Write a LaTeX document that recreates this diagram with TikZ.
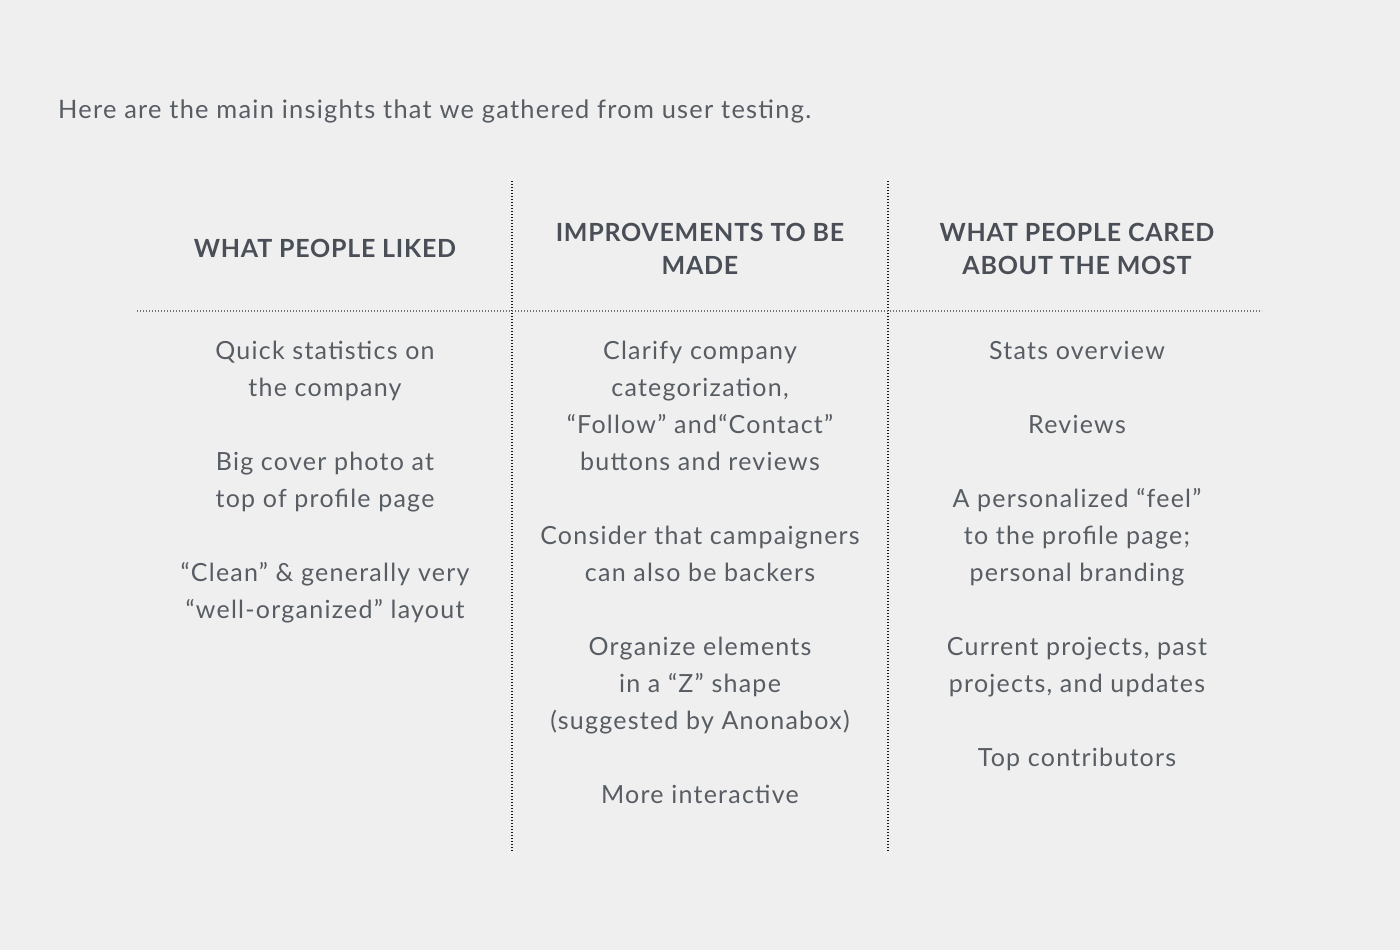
\documentclass[tikz,border=0pt]{standalone}
\usepackage{fontspec}
\setmainfont{Lato}
\newfontfamily\corps[LetterSpace=5]{Lato}
\newfontfamily\grascorps[LetterSpace=3]{Lato Bold}
\usepackage{tikz}

\definecolor{fond}{HTML}{EFEFEF}
\definecolor{texte}{HTML}{585D64}
\definecolor{titre}{HTML}{4A4F57}

\begin{document}
\begin{tikzpicture}[x=1pt, y=-1pt]
	\tikzset{item/.style={anchor=north, align=center, inner sep=0pt, text=texte,
			font=\corps\fontsize{25}{37}\selectfont},
		entete/.style={anchor=north, align=center, inner sep=0pt, text=titre,
			font=\grascorps\fontsize{25}{33}\selectfont},
		trait/.style={line width=1.1pt, dash pattern=on 1.2pt off 1.8pt}};

	\fill[fond] (0,0) rectangle (1400,950);
	\useasboundingbox (0,0) rectangle (1400,950);

	\node[anchor=base west, inner sep=0pt, text=texte, font=\corps\fontsize{25.4}{30}\selectfont] (intro) at (58,118)
		{Here are the main insights that we gathered from user testing.};

	% en-tetes des colonnes
	\node[entete] (h-1) at (325,234) {\strut WHAT PEOPLE LIKED};
	\node[entete] (h-2) at (700,218) {\strut IMPROVEMENTS TO BE\\MADE};
	\node[entete] (h-3) at (1077,218) {\strut WHAT PEOPLE CARED\\ABOUT THE MOST};

	% grille
	\coordinate (v1-haut) at (512,181); \coordinate (v1-bas) at (512,851);
	\coordinate (v2-haut) at (888,181); \coordinate (v2-bas) at (888,851);
	\coordinate (g) at (137,311); \coordinate (d) at (1262,311);
	\draw[trait, black!90] (v1-haut) -- (v1-bas);
	\draw[trait, black!90] (v2-haut) -- (v2-bas);
	\draw[trait, black!55] (g) -- (d);

	% contenu, \k = numero de la ligne
	\foreach \name/\x/\k/\txt in {
		l1/325/0/{Quick statistics on\\the company},
		l2/325/3/{Big cover photo at\\top of profile page},
		l3/325/6/{“Clean” \& generally very\\“well-organized” layout},
		m1/700/0/{Clarify company\\categorization,\\“Follow” and“Contact”\\buttons and reviews},
		m2/700/5/{Consider that campaigners\\can also be backers},
		m3/700/8/{Organize elements\\in a “Z” shape\\(suggested by Anonabox)},
		m4/700/12/{More interactive},
		r1/1077/0/{Stats overview},
		r2/1077/2/{Reviews},
		r3/1077/4/{A personalized “feel”\\to the profile page;\\personal branding},
		r4/1077/8/{Current projects, past\\projects, and updates},
		r5/1077/11/{Top contributors}}{
		\node[item] (\name) at (\x, {333.1+37*\k}) {\strut\txt};
	}
\end{tikzpicture}
\end{document}
